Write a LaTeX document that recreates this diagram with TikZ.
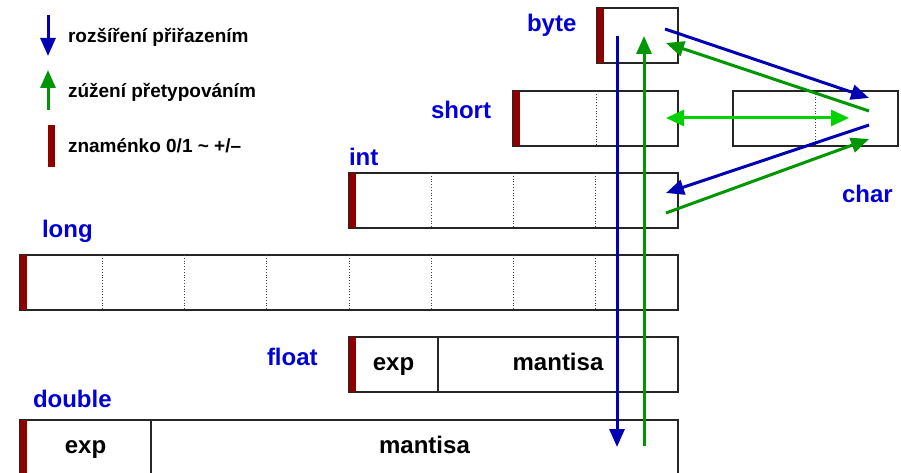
\documentclass[tikz,border=0pt]{standalone}
\usepackage{fontspec}
\setmainfont{Liberation Sans}
\usetikzlibrary{arrows.meta, positioning}
\definecolor{typeblue}{RGB}{0,0,215}
\definecolor{widenblue}{RGB}{0,0,178}
\definecolor{narrowgreen}{RGB}{0,150,0}
\definecolor{bothgreen}{RGB}{0,210,0}
\definecolor{signred}{RGB}{140,0,0}

\begin{document}
\begin{tikzpicture}
        [
            x=1pt, y=-1pt,
            every node/.style={
                inner sep=0pt,
                outer sep=0pt
            },
            cell/.style={
                draw=black!85,
                line width=1.3pt,
                minimum height=55pt,
                anchor=north west,
                text height=17pt,
                text depth=5pt,
                font=\bfseries\fontsize{24}{28}\selectfont
            },
            typename/.style={
                anchor=base west,
                text=typeblue,
                font=\bfseries\fontsize{24}{28}\selectfont
            },
            legend/.style={
                anchor=base west,
                font=\bfseries\fontsize{19}{22}\selectfont
            },
            sign/.style={fill=signred},
            divider/.style={dotted, line width=0.8pt, black!75},
            widen/.style={
                draw=widenblue,
                line width=3pt,
                -{Triangle[length=18pt, width=15pt]}
            },
            narrow/.style={
                draw=narrowgreen,
                line width=3pt,
                -{Triangle[length=18pt, width=15pt]}
            },
            both/.style={
                draw=bothgreen,
                line width=3pt,
                {Triangle[length=18pt, width=16pt]}-{Triangle[length=18pt, width=16pt]}
            }
         ]
        \useasboundingbox (0,0) rectangle (901,473);

        \node[legend] (legwiden) at (68,43) {rozšíření přiřazením};
        \node[legend] (legnarrow) at (68,98) {zúžení přetypováním};
        \node[legend] (legsign) at (68,153) {znaménko 0/1 \char"007E{} +/–};
        \coordinate (lw1) at (48,15);
        \coordinate (lw2) at (48,56);
        \coordinate (ln1) at (48,110);
        \coordinate (ln2) at (48,70);
        \draw[widen] (lw1) -- (lw2);
        \draw[narrow] (ln1) -- (ln2);
        \fill[sign] (48,125) rectangle (55,167);

        \node[cell, minimum width=81pt] (byte) at (597,8) {};
        \node[cell, minimum width=165pt] (short) at (513,91) {};
        \node[cell, minimum width=165pt] (char) at (733,91) {};
        \node[cell, minimum width=329pt] (int) at (349,173) {};
        \node[cell, minimum width=658pt] (long) at (20,255) {};
        \node[cell, minimum width=89pt] (fexp) at (349,337) {exp};
        \node[cell, minimum width=240pt, right=0pt of fexp] (fman) {mantisa};
        \node[cell, minimum width=131pt] (dexp) at (20,420) {exp};
        \node[cell, minimum width=527pt, right=0pt of dexp] (dman) {\hspace*{20pt}mantisa};

        \foreach \b in {byte,short,int,long,fexp,dexp}
            \fill[sign] (\b.north west) rectangle ++(7,55);
        \foreach \i in {1,...,7}
            \draw[divider] ([xshift={82.25*\i}]long.north west) -- ++(0,55);
        \foreach \i in {1,2,3}
            \draw[divider] ([xshift={82.25*\i}]int.north west) -- ++(0,55);
        \draw[divider] ([xshift=83]short.north west) -- ++(0,55);
        \draw[divider] ([xshift=82]char.north west) -- ++(0,55);

        \node[typename] (lbyte) at (527,32) {byte};
        \node[typename] (lshort) at (431,119) {short};
        \node[typename] (lint) at (349,166) {int};
        \node[typename] (llong) at (42,237) {long};
        \node[typename] (lfloat) at (267,365) {float};
        \node[typename] (ldouble) at (33,407) {double};
        \node[typename] (lchar) at (842,202) {char};

        \coordinate (wtop) at (617,36);
        \coordinate (wbot) at (617,447);
        \coordinate (nbot) at (644,446);
        \coordinate (ntop) at (644,36);
        \coordinate (bytea) at (665,29);
        \coordinate (byteb) at (666,43);
        \coordinate (shorta) at (666,118);
        \coordinate (inta) at (666,193);
        \coordinate (intb) at (666,213);
        \coordinate (chara) at (869,98);
        \coordinate (charb) at (869,111);
        \coordinate (charc) at (849,118);
        \coordinate (chard) at (869,125);
        \coordinate (chare) at (869,139);
        \draw[widen] (wtop) -- (wbot);
        \draw[narrow] (nbot) -- (ntop);
        \draw[widen] (bytea) -- (chara);
        \draw[narrow] (charb) -- (byteb);
        \draw[both] (shorta) -- (charc);
        \draw[widen] (chard) -- (inta);
        \draw[narrow] (intb) -- (chare);
    \end{tikzpicture}
\end{document}
